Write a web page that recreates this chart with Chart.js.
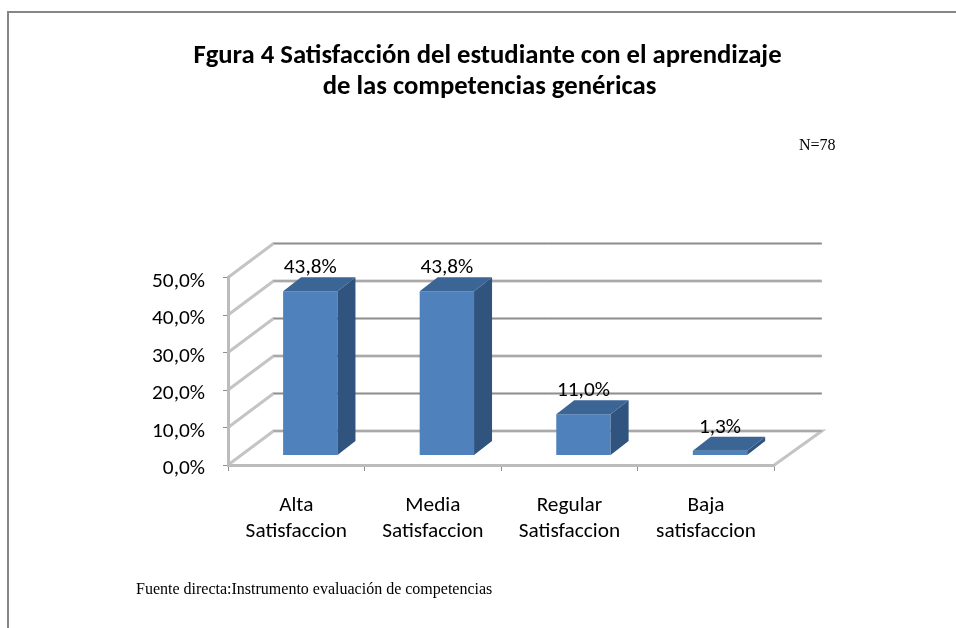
<!DOCTYPE html>
<html>
<head>
<meta charset="utf-8">
<script src="https://cdn.jsdelivr.net/npm/chart.js@4"></script>
<style>
html,body{margin:0;padding:0;background:#fff}
canvas{display:block;filter:blur(0.45px)}
</style>
</head>
<body>
<canvas id="c" width="956" height="628"></canvas>
<script>
const categories = [["Alta","Satisfaccion"],["Media","Satisfaccion"],["Regular","Satisfaccion"],["Baja","satisfaccion"]];
const values = [43.8, 43.8, 11.0, 1.3];
const valueLabels = ["43,8%","43,8%","11,0%","1,3%"];
const yTicks = [0,10,20,30,40,50];
const titleLines = ["Fgura 4 Satisfacción del estudiante con el aprendizaje","de las competencias genéricas"];
const sampleNote = "N=78";
const sourceNote = "Fuente directa:Instrumento evaluación de competencias";

const SANS = 'Carlito, Lato, "Open Sans", sans-serif';
const SERIF = '"Liberation Serif", "Times New Roman", serif';
const WALL = {dx:45.5, dy:-34, extra:2};
const BAR_SHIFT = {dx:14, dy:-9.5};
const BAR_DEPTH = {dx:18, dy:-14};

const decor = {
  id:'decor',
  beforeDraw(chart){
    const c = chart.ctx, ys = chart.scales.y, xs = chart.scales.x;
    c.save();
    c.strokeStyle='#868686'; c.lineWidth=2;
    c.beginPath(); c.moveTo(8,628); c.lineTo(8,12); c.lineTo(956,12); c.stroke();
    c.fillStyle='#000'; c.textBaseline='alphabetic';
    c.font='bold 26.7px '+SANS; c.textAlign='center';
    c.fillText(titleLines[0],487.5,63);
    c.fillText(titleLines[1],489.5,94);
    c.font='16px '+SERIF; c.textAlign='left';
    c.fillText(sampleNote,799,150);
    c.fillText(sourceNote,136,594);
    const L=xs.left, R=xs.right;
    yTicks.forEach(v=>{
      const y=ys.getPixelForValue(v);
      const bx=R+WALL.dx+WALL.extra, by=y+WALL.dy;
      c.strokeStyle='#c4c4c4'; c.lineWidth=3;
      c.beginPath();
      c.moveTo(L,y); c.lineTo(L+WALL.dx,by); c.lineTo(bx,by);
      if(v===0){ c.lineTo(R,y); }
      c.stroke();
      c.strokeStyle='#8e8e8e'; c.lineWidth=1;
      c.beginPath(); c.moveTo(L+WALL.dx,by); c.lineTo(bx,by); c.stroke();
    });
    c.restore();
  },
  beforeDatasetsDraw(chart){
    chart.ctx.save();
    chart.ctx.translate(BAR_SHIFT.dx,BAR_SHIFT.dy);
  },
  afterDatasetsDraw(chart){
    const c=chart.ctx;
    c.restore();
    c.save();
    chart.getDatasetMeta(0).data.forEach((b,i)=>{
      const p=b.getProps(['x','y','base','width'],true);
      const l=p.x-p.width/2+BAR_SHIFT.dx, r=p.x+p.width/2+BAR_SHIFT.dx;
      const t=p.y+BAR_SHIFT.dy, bt=p.base+BAR_SHIFT.dy;
      c.fillStyle='#31547f';
      c.beginPath(); c.moveTo(r,t); c.lineTo(r+BAR_DEPTH.dx,t+BAR_DEPTH.dy);
      c.lineTo(r+BAR_DEPTH.dx,bt+BAR_DEPTH.dy); c.lineTo(r,bt); c.closePath(); c.fill();
      c.fillStyle='#3b6595';
      c.beginPath(); c.moveTo(l,t); c.lineTo(l+BAR_DEPTH.dx,t+BAR_DEPTH.dy);
      c.lineTo(r+BAR_DEPTH.dx,t+BAR_DEPTH.dy); c.lineTo(r,t); c.closePath(); c.fill();
      c.fillStyle='#000'; c.font='21.3px '+SANS; c.textAlign='center'; c.textBaseline='alphabetic';
      c.fillText(valueLabels[i],(l+r)/2,t-18);
    });
    c.restore();
  }
};

new Chart(document.getElementById('c'),{
  type:'bar',
  data:{labels:categories,datasets:[{data:values,backgroundColor:'#4f81bd',borderWidth:0,barPercentage:0.398,categoryPercentage:1,clip:false}]},
  plugins:[decor],
  options:{
    responsive:false,animation:false,devicePixelRatio:1,
    layout:{padding:{top:277.5,right:181.7,left:0,bottom:0}},
    plugins:{legend:{display:false},tooltip:{enabled:false},title:{display:false}},
    scales:{
      x:{
        afterFit(s){s.height=163;},
        grid:{display:true,drawOnChartArea:false,drawTicks:true,tickLength:6,color:'#8e8e8e',offset:true},
        border:{display:true,color:'#bcbcbc',width:3},
        ticks:{color:'#000',font:{family:SANS,size:21.3,lineHeight:1.25},padding:21,maxRotation:0,autoSkip:false}
      },
      y:{
        min:0,max:50,
        afterFit(s){s.width=228;},
        grid:{display:true,drawOnChartArea:false,drawTicks:true,tickLength:5,color:'#8e8e8e'},
        border:{display:true,color:'#bcbcbc',width:3},
        ticks:{stepSize:10,color:'#000',padding:18,font:{family:SANS,size:21.3,lineHeight:0.36},callback:v=>['',v.toFixed(1).replace('.',',')+'%']}
      }
    }
  }
});
</script>
</body>
</html>
